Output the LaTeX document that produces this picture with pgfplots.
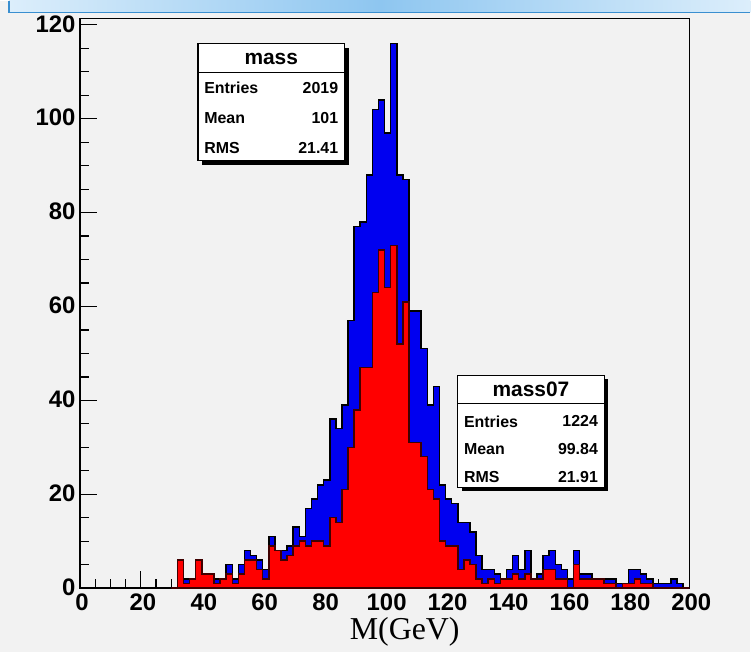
\documentclass[border=0pt]{standalone}
\usepackage{fontspec}
\setmainfont{Liberation Sans}
\newfontfamily\seriffont{Liberation Serif}
\usepackage{pgfplots}
\pgfplotsset{compat=1.18}
\definecolor{bg}{HTML}{F2F2F2}
\definecolor{stripL}{HTML}{DCEEFB}
\definecolor{stripM}{HTML}{8EC6F0}
\definecolor{stripB}{HTML}{3A8FD0}
\definecolor{rootblue}{HTML}{0000F0}
\definecolor{rootred}{HTML}{FF0000}
\begin{document}
\begin{tikzpicture}[x=1bp,y=1bp]
\fill[bg] (0,0) rectangle (751,652);
\shade[left color=stripL, right color=stripL, middle color=stripM] (9,640) rectangle (751,652);
\draw[stripB, line width=1.5bp] (9,652) -- (9,640) -- (751,640);
\begin{axis}[
  at={(80bp,64bp)}, anchor=south west,
  scale only axis, width=610bp, height=570bp,
  xmin=0, xmax=200, ymin=0, ymax=121.3,
  axis line style={line width=1.5bp},
  xtick={0,20,...,200}, ytick={0,20,...,120},
  minor x tick num=3, minor y tick num=3,
  tick align=inside, tick pos=left,
  major tick length=17bp, minor tick length=9bp,
  every tick/.style={black, line width=1.2bp},
  /pgf/number format/assume math mode=true,
  tick label style={font=\bfseries\fontsize{24}{24}\selectfont},
  xticklabel style={yshift=-2bp, xshift=2bp},
  yticklabel style={xshift=-1bp, yshift=1bp},
  xlabel={\seriffont\fontsize{32}{32}\selectfont M(GeV)},
  xlabel style={at={(axis description cs:0.533,0)}, anchor=center, yshift=-44bp},
]
\addplot[const plot, fill=rootblue, draw=black, line width=1.5bp] coordinates {
(30,0)(32,6)(34,2)(36,2)(38,6)(40,3)(42,3)(44,2)(46,2)(48,5)(50,2)(52,5)(54,8)(56,7)(58,6)(60,4)
(62,11)(64,8)(66,8)(68,9)(70,13)(72,11)(74,17)(76,19)(78,22)(80,23)(82,36)(84,34)(86,39)
(88,57)(90,77)(92,78)(94,88)(96,102)(98,104)(100,97)(102,116)(104,88)(106,87)
(108,59)(110,59)(112,51)(114,39)(116,43)(118,22)(120,19)(122,18)(124,14)(126,14)(128,12)
(130,7)(132,4)(134,4)(136,3)(138,2)(140,4)(142,7)(144,4)(146,8)(148,2)(150,3)(152,7)(154,8)
(156,5)(158,4)(160,2)(162,8)(164,3)(166,3)(168,2)(170,2)(172,2)(174,2)(176,1)(178,1)(180,4)
(182,4)(184,3)(186,2)(188,1)(190,1)(192,1)(194,2)(196,1)(198,0)(200,0)
} \closedcycle;
\addplot[const plot, fill=rootred, draw=black!75!red, line width=1.5bp] coordinates {
(30,0)(32,6)(34,1)(36,2)(38,6)(40,3)(42,3)(44,1)(46,2)(48,3)(50,1)(52,3)(54,6)(56,6)(58,4)(60,2)
(62,9)(64,8)(66,6)(68,7)(70,9)(72,10)(74,9)(76,10)(78,10)(80,9)(82,15)(84,14)(86,21)
(88,30)(90,38)(92,47)(94,47)(96,63)(98,72)(100,64)(102,73)(104,52)(106,61)
(108,31)(110,31)(112,28)(114,21)(116,19)(118,10)(120,9)(122,9)(124,4)(126,6)(128,5)
(130,2)(132,1)(134,2)(136,1)(138,2)(140,2)(142,3)(144,2)(146,3)(148,2)(150,2)(152,4)(154,4)
(156,2)(158,2)(160,0)(162,5)(164,2)(166,2)(168,2)(170,2)(172,1)(174,1)(176,0)(178,1)(180,1)
(182,2)(184,1)(186,1)(188,0)(190,0)(192,0)(194,0)(196,0)(198,0)(200,0)
} \closedcycle;
\end{axis}
% stats box: mass
\fill[black] (202,488) rectangle (349,605);
\filldraw[fill=white, draw=black, line width=1.4bp] (198,492) rectangle (345,609);
\draw[black, line width=1.4bp] (198,580) -- (345,580);
\node[font=\bfseries\fontsize{21}{21}\selectfont] at (271.5,594) {mass};
\node[anchor=west, font=\bfseries\fontsize{16}{16}\selectfont] at (201,565) {Entries};
\node[anchor=east, font=\bfseries\fontsize{16}{16}\selectfont] at (342,565) {2019};
\node[anchor=west, font=\bfseries\fontsize{16}{16}\selectfont] at (201,535) {Mean};
\node[anchor=east, font=\bfseries\fontsize{16}{16}\selectfont] at (342,535) {101};
\node[anchor=west, font=\bfseries\fontsize{16}{16}\selectfont] at (201,505) {RMS};
\node[anchor=east, font=\bfseries\fontsize{16}{16}\selectfont] at (342,505) {21.41};
% stats box: mass07
\fill[black] (462,161) rectangle (609,273);
\filldraw[fill=white, draw=black, line width=1.4bp] (458,165) rectangle (605,277);
\draw[black, line width=1.4bp] (458,249) -- (605,249);
\node[font=\bfseries\fontsize{21}{21}\selectfont] at (531.5,263) {mass07};
\node[anchor=west, font=\bfseries\fontsize{16}{16}\selectfont] at (461,231) {Entries};
\node[anchor=east, font=\bfseries\fontsize{16}{16}\selectfont] at (602,231) {1224};
\node[anchor=west, font=\bfseries\fontsize{16}{16}\selectfont] at (461,203) {Mean};
\node[anchor=east, font=\bfseries\fontsize{16}{16}\selectfont] at (602,203) {99.84};
\node[anchor=west, font=\bfseries\fontsize{16}{16}\selectfont] at (461,175) {RMS};
\node[anchor=east, font=\bfseries\fontsize{16}{16}\selectfont] at (602,175) {21.91};
\end{tikzpicture}
\end{document}
